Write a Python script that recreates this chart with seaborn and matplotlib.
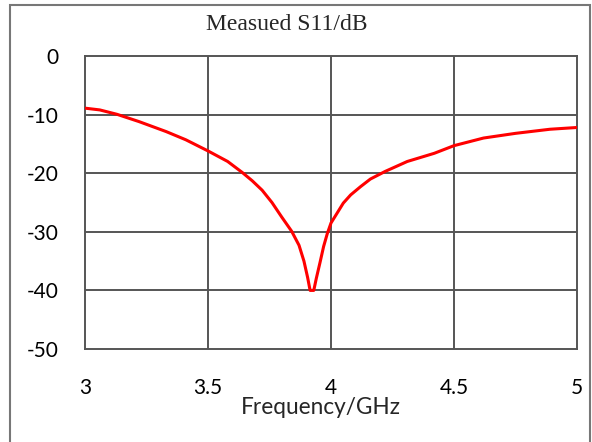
import seaborn as sns
import matplotlib.pyplot as plt
import matplotlib.patches as patches
import pandas as pd

sns.set_style("white")

freq = [3.00, 3.06, 3.13, 3.22, 3.33, 3.41, 3.50, 3.58, 3.64, 3.68, 3.72, 3.76,
        3.80, 3.84, 3.87, 3.89, 3.905, 3.915, 3.93, 3.94, 3.955, 3.97, 3.985,
        4.00, 4.05, 4.08, 4.12, 4.16, 4.22, 4.31, 4.42, 4.50, 4.62, 4.75, 4.89, 5.00]
s11 = [-8.9, -9.2, -9.95, -11.2, -12.9, -14.3, -16.2, -18.0, -19.9, -21.3, -22.9, -25.0,
       -27.5, -29.9, -32.3, -35.0, -37.8, -40.0, -40.0, -38.0, -35.3, -32.5, -30.3,
       -28.5, -25.1, -23.7, -22.3, -21.0, -19.7, -18.0, -16.6, -15.3, -14.0, -13.2, -12.5, -12.2]
xticks = [3, 3.5, 4, 4.5, 5]
xticklabels = ["3", "3.5", "4", "4.5", "5"]
yticks = [0, -10, -20, -30, -40, -50]

df = pd.DataFrame({"freq": freq, "s11": s11})

fig = plt.figure(figsize=(5.92, 4.42), dpi=100)
ax = fig.add_axes([85/592, 93/442, 492/592, 293/442])

# grid
for x in xticks[1:-1]:
    ax.axvline(x, color="#555555", lw=1.4, zorder=1)
for y in yticks[1:-1]:
    ax.axhline(y, color="#555555", lw=1.4, zorder=1)

sns.lineplot(data=df, x="freq", y="s11", color="red", lw=2.2, ax=ax, zorder=3)

ax.set_xlim(3, 5)
ax.set_ylim(-50, 0)
ax.set_xticks(xticks)
ax.set_xticklabels(xticklabels)
ax.set_yticks(yticks)
ax.set_yticklabels([str(v) for v in yticks])
ax.tick_params(axis="both", length=0, labelsize=15, colors="black")
ax.tick_params(axis="y", pad=19)
ax.tick_params(axis="x", pad=21)
for lab in ax.get_xticklabels() + ax.get_yticklabels():
    lab.set_family("Lato")
for sp in ax.spines.values():
    sp.set_visible(True)
    sp.set_color("#555555")
    sp.set_linewidth(1.4)
ax.set_xlabel("")
ax.set_ylabel("")

fig.text(321/592, 1 - 408/442, "Frequency/GHz", ha="center", va="center",
         fontsize=16.3, family="Lato")
fig.text(287/592, 1 - 25/442, "Measued S11/dB", ha="center", va="center",
         fontsize=17, family="Liberation Serif")

# outer frame
frame = patches.Rectangle((10/592, -0.05), 580/592, 1.05 - 5/442,
                          transform=fig.transFigure, fill=False,
                          edgecolor="#777777", lw=1.5)
fig.patches.append(frame)

fig.savefig("out.png", dpi=100)
